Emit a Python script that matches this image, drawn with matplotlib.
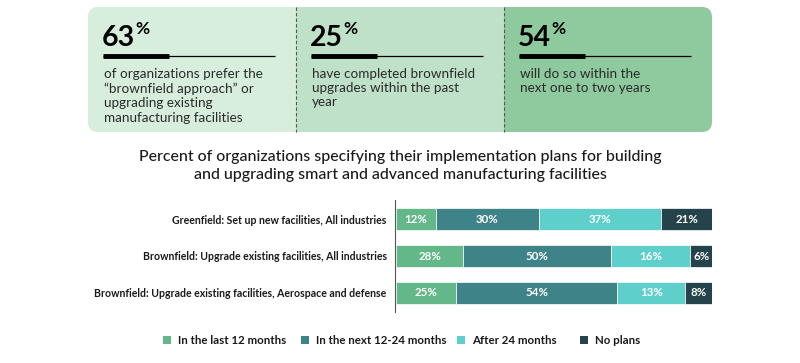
import numpy as np
import matplotlib.pyplot as plt
from matplotlib.patches import FancyBboxPatch, Rectangle

plt.rcParams['font.family'] = ['Lato', 'DejaVu Sans']

# Data
categories = ["Greenfield: Set up new facilities, All industries",
              "Brownfield: Upgrade existing facilities, All industries",
              "Brownfield: Upgrade existing facilities, Aerospace and defense"]
series_names = ["In the last 12 months", "In the next 12-24 months",
                "After 24 months", "No plans"]
# printed values
label_last_12 = [12, 28, 25]
label_next_12_24 = [30, 50, 54]
label_after_24 = [37, 16, 13]
label_no_plans = [21, 6, 8]
# segment lengths as drawn in the picture (share of bar, %)
drawn_last_12 = [12.7, 21.3, 19.1]
drawn_next_12_24 = [32.5, 46.8, 50.9]
drawn_after_24 = [38.6, 25.0, 21.4]
drawn_no_plans = [16.2, 7.0, 8.6]
colors = ["#64b789", "#3e8387", "#5fcfcc", "#25434a"]

stat_values = ["63", "25", "54"]
stat_texts = ["of organizations prefer the\n\u201cbrownfield approach\u201d or\nupgrading existing\nmanufacturing facilities",
              "have completed brownfield\nupgrades within the past\nyear",
              "will do so within the\nnext one to two years"]
panel_colors = ["#d6eedb", "#bfe1c9", "#8fca9e"]

title = ("Percent of organizations specifying their implementation plans for building\n"
         "and upgrading smart and advanced manufacturing facilities")

W, H = 800, 363
fig = plt.figure(figsize=(W / 100, H / 100), dpi=100)

# overlay axes in pixel coordinates for the top panel, title and legend
ov = fig.add_axes([0, 0, 1, 1])
ov.set_xlim(0, W)
ov.set_ylim(H, 0)
ov.axis("off")

box = FancyBboxPatch((88, 7), 624, 125, boxstyle="round,pad=0,rounding_size=10",
                     facecolor="none", edgecolor="none")
ov.add_patch(box)
edges = [88, 296, 504, 712]
for i in range(3):
    r = Rectangle((edges[i], 7), edges[i + 1] - edges[i], 125,
                  facecolor=panel_colors[i], edgecolor="none")
    ov.add_patch(r)
    r.set_clip_path(box)
for xd in edges[1:3]:
    ov.plot([xd, xd], [7, 132], color="#555555", lw=0.8, ls=(0, (3, 2)))

for i in range(3):
    x0 = edges[i] + 15
    num = ov.text(x0 - 1, 46.5, stat_values[i], fontsize=20.5, fontweight="bold",
                  color="black", ha="left", va="baseline")
    ov.annotate("%", xy=(1, 1), xycoords=num, xytext=(0, 3),
                textcoords="offset points", fontsize=12.5, fontweight="bold",
                color="black", ha="left", va="top")
    ov.plot([x0, x0 + 172], [55.5, 55.5], color="black", lw=0.9,
            solid_capstyle="butt")
    ov.plot([x0, x0 + 66], [55.5, 55.5], color="black", lw=3.5,
            solid_capstyle="butt")
    ov.text(x0 + 1, 67.5, stat_texts[i], fontsize=9.7, color="#2a2a2a",
            ha="left", va="top", linespacing=1.25)

ov.text(400, 166, title, fontsize=11.4, fontweight="medium", color="#1a1a1a",
        ha="center", va="center", linespacing=1.3)

# legend drawn by hand to match item spacing
legend_x = [163, 301, 457, 580]
for lx, c, name in zip(legend_x, colors, series_names):
    ov.add_patch(Rectangle((lx, 336), 8, 8, facecolor=c, edgecolor="none"))
    ov.text(lx + 15, 340.5, name, fontsize=8.3, fontweight="bold", color="#1a1a1a",
            ha="left", va="center")

# bar chart
ax = fig.add_axes([395 / W, (H - 312) / H, (712.3 - 395) / W, 112 / H])
ax.set_zorder(2)
drawn = [drawn_last_12, drawn_next_12_24, drawn_after_24, drawn_no_plans]
printed = [label_last_12, label_next_12_24, label_after_24, label_no_plans]
y = np.arange(len(categories))
left = np.zeros(len(categories))
for vals, labs, c, name in zip(drawn, printed, colors, series_names):
    vals = np.array(vals)
    ax.barh(y, vals, left=left, height=0.62, color=c, edgecolor="white",
            linewidth=0.5, label=name)
    for yi, l, v, lab in zip(y, left, vals, labs):
        ax.text(l + v / 2, yi, f"{lab}%", ha="center", va="center",
                color="white", fontsize=8.3, fontweight="bold")
    left += vals

ax.set_xlim(-0.3, 100)
ax.set_ylim(2 + 0.514, -0.514)
ax.set_yticks(y)
ax.set_yticklabels(categories, fontsize=7.6, fontweight="bold", color="#1a1a1a")
ax.tick_params(axis="y", length=0, pad=6)
ax.set_xticks([])
for s in ["top", "right", "bottom"]:
    ax.spines[s].set_visible(False)
ax.spines["left"].set_color("#555555")
ax.spines["left"].set_linewidth(0.8)
ax.patch.set_alpha(0)

fig.savefig("out.png", dpi=100)
